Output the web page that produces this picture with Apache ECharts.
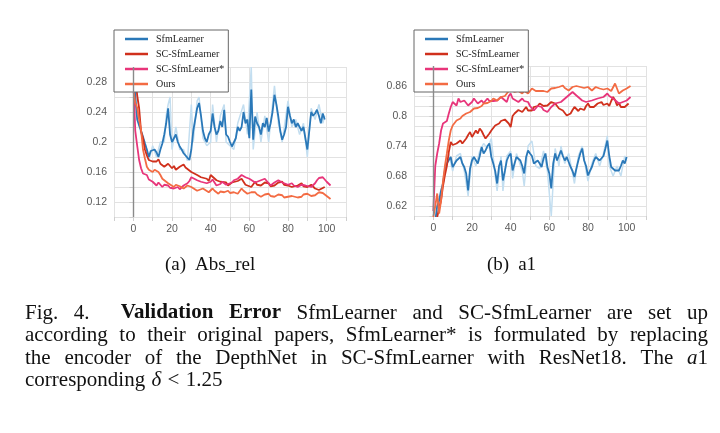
<!DOCTYPE html>
<html><head><meta charset="utf-8">
<script src="https://cdn.jsdelivr.net/npm/echarts/dist/echarts.min.js"></script>
<style>html,body{margin:0;padding:0;background:#fff}#c{width:720px;height:433px}</style>
</head><body><div id="c"></div>
<script>
// ---------- data ----------
const seriesNames = ['SfmLearner', 'SC-SfmLearner', 'SC-SfmLearner*', 'Ours'];

// (a) Abs_rel  [epoch, value]
const absSfm = [[0,0.305],[1,0.26],[2,0.23],[3,0.222],[4,0.215],[5,0.207],[6,0.198],[7,0.19],[8,0.18],[9,0.188],[10,0.19],[11,0.19],[12,0.186],[13,0.18],[14,0.19],[15,0.198],[16,0.21],[17,0.225],[18,0.245],[19,0.21],[20,0.2],[21,0.205],[22,0.21],[23,0.2],[24,0.194],[25,0.19],[26,0.185],[27,0.182],[28,0.18],[29,0.176],[30,0.19],[31,0.215],[32,0.23],[33,0.245],[34,0.252],[35,0.235],[36,0.215],[37,0.205],[38,0.2],[39,0.21],[40,0.215],[41,0.238],[42,0.22],[43,0.21],[44,0.215],[45,0.228],[46,0.22],[47,0.243],[48,0.21],[49,0.207],[50,0.2],[51,0.194],[52,0.194],[53,0.205],[54,0.22],[55,0.215],[56,0.22],[57,0.24],[58,0.225],[59,0.23],[60,0.205],[61,0.27],[62,0.203],[63,0.234],[64,0.225],[65,0.22],[66,0.21],[67,0.225],[68,0.22],[69,0.232],[70,0.214],[71,0.225],[72,0.24],[73,0.263],[74,0.25],[75,0.234],[76,0.215],[77,0.203],[78,0.21],[79,0.22],[80,0.247],[81,0.235],[82,0.225],[83,0.23],[84,0.22],[85,0.225],[86,0.225],[87,0.215],[88,0.22],[89,0.205],[90,0.19],[91,0.215],[92,0.24],[93,0.235],[94,0.238],[95,0.243],[96,0.235],[97,0.225],[98,0.238],[99,0.23]];
const absSfmRaw = [[0,0.31],[2,0.235],[4,0.21],[6,0.2],[8,0.175],[10,0.195],[12,0.18],[14,0.2],[16,0.2],[17,0.235],[18,0.25],[19,0.26],[20,0.19],[22,0.22],[24,0.19],[26,0.19],[28,0.175],[30,0.25],[31,0.2],[33,0.255],[34,0.26],[36,0.205],[38,0.195],[40,0.2],[41,0.25],[43,0.2],[45,0.235],[47,0.25],[48,0.2],[50,0.195],[52,0.19],[54,0.225],[57,0.25],[59,0.21],[61,0.3],[62,0.19],[64,0.24],[66,0.2],[68,0.235],[70,0.2],[73,0.275],[75,0.225],[77,0.2],[80,0.255],[82,0.22],[84,0.23],[86,0.21],[88,0.225],[90,0.18],[92,0.245],[94,0.23],[96,0.25],[98,0.225],[99,0.235]];
const absSc = [[0,0.305],[1,0.29],[2,0.262],[3,0.245],[4,0.214],[5,0.205],[6,0.19],[7,0.182],[8,0.176],[9,0.174],[10,0.174],[12,0.174],[13,0.177],[14,0.171],[15,0.173],[16,0.167],[17,0.169],[18,0.171],[20,0.165],[21,0.168],[22,0.163],[24,0.167],[26,0.17],[27,0.166],[28,0.165],[30,0.16],[31,0.162],[33,0.156],[35,0.153],[36,0.155],[38,0.151],[39,0.148],[40,0.156],[41,0.158],[43,0.149],[45,0.147],[46,0.145],[48,0.146],[49,0.142],[51,0.146],[52,0.145],[54,0.148],[56,0.151],[58,0.143],[59,0.145],[61,0.14],[63,0.147],[64,0.143],[66,0.142],[68,0.146],[70,0.145],[71,0.141],[73,0.142],[75,0.146],[77,0.147],[78,0.143],[80,0.142],[82,0.14],[83,0.138],[85,0.142],[87,0.145],[88,0.141],[90,0.14],[92,0.143],[94,0.138],[96,0.136],[97,0.138],[99,0.14]];
const absScStar = [[0,0.283],[1,0.215],[2,0.195],[3,0.176],[4,0.165],[5,0.158],[6,0.16],[7,0.156],[8,0.15],[9,0.149],[10,0.147],[11,0.145],[12,0.142],[13,0.146],[14,0.145],[15,0.14],[16,0.143],[18,0.142],[19,0.139],[21,0.138],[23,0.14],[24,0.137],[26,0.142],[28,0.145],[29,0.148],[30,0.153],[31,0.151],[33,0.149],[35,0.147],[36,0.145],[38,0.145],[40,0.147],[41,0.15],[43,0.142],[45,0.144],[46,0.147],[48,0.143],[49,0.142],[51,0.146],[52,0.149],[54,0.151],[56,0.156],[57,0.154],[58,0.153],[60,0.151],[61,0.149],[63,0.146],[64,0.147],[66,0.149],[68,0.151],[70,0.145],[71,0.142],[73,0.146],[75,0.149],[77,0.146],[78,0.147],[80,0.143],[82,0.145],[83,0.142],[85,0.14],[87,0.143],[89,0.142],[90,0.141],[92,0.14],[94,0.145],[95,0.149],[96,0.152],[98,0.153],[100,0.147],[101,0.145],[102,0.142]];
const absOurs = [[0,0.27],[1,0.252],[2,0.246],[3,0.23],[4,0.216],[5,0.19],[6,0.178],[7,0.167],[8,0.163],[9,0.162],[10,0.16],[11,0.163],[12,0.165],[13,0.16],[14,0.156],[15,0.151],[16,0.149],[18,0.145],[19,0.143],[21,0.14],[22,0.143],[23,0.145],[24,0.141],[26,0.138],[27,0.14],[28,0.142],[30,0.14],[31,0.139],[33,0.135],[34,0.137],[36,0.138],[37,0.136],[39,0.133],[41,0.138],[42,0.135],[44,0.131],[45,0.134],[47,0.133],[49,0.135],[50,0.132],[52,0.133],[54,0.131],[56,0.138],[57,0.135],[59,0.131],[61,0.133],[63,0.133],[64,0.13],[66,0.127],[68,0.13],[70,0.131],[71,0.128],[73,0.127],[75,0.13],[77,0.129],[78,0.126],[80,0.127],[82,0.128],[83,0.129],[85,0.126],[87,0.127],[88,0.13],[90,0.131],[92,0.128],[94,0.129],[95,0.131],[96,0.133],[98,0.132],[99,0.131],[100,0.128],[101,0.126],[102,0.124]];

// (b) a1  [epoch, value]
const a1Sfm = [[0,0.58],[1,0.59],[2,0.62],[3,0.631],[4,0.651],[5,0.665],[6,0.691],[7,0.705],[8,0.712],[9,0.718],[10,0.698],[11,0.7],[12,0.711],[13,0.715],[14,0.718],[15,0.705],[16,0.698],[17,0.685],[18,0.651],[19,0.695],[20,0.711],[21,0.718],[22,0.715],[23,0.705],[24,0.72],[25,0.738],[26,0.725],[27,0.731],[28,0.74],[29,0.745],[30,0.718],[31,0.705],[32,0.69],[33,0.665],[34,0.7],[35,0.711],[36,0.671],[37,0.69],[38,0.711],[39,0.72],[40,0.725],[41,0.691],[42,0.705],[43,0.718],[44,0.715],[45,0.711],[46,0.7],[47,0.685],[48,0.718],[49,0.731],[50,0.725],[51,0.72],[52,0.705],[53,0.708],[54,0.711],[55,0.705],[56,0.698],[57,0.715],[58,0.725],[59,0.698],[60,0.685],[61,0.655],[62,0.705],[63,0.725],[64,0.711],[65,0.715],[66,0.731],[67,0.72],[68,0.711],[69,0.718],[70,0.715],[71,0.698],[72,0.69],[73,0.678],[74,0.695],[75,0.711],[76,0.725],[77,0.735],[78,0.711],[79,0.7],[80,0.681],[81,0.69],[82,0.698],[83,0.71],[84,0.718],[85,0.715],[86,0.711],[87,0.712],[88,0.72],[89,0.735],[90,0.751],[91,0.72],[92,0.698],[93,0.695],[94,0.691],[95,0.69],[96,0.691],[97,0.7],[98,0.711],[99,0.705],[100,0.718]];
const a1SfmRaw = [[2,0.6],[4,0.64],[6,0.7],[8,0.725],[10,0.69],[12,0.72],[14,0.725],[16,0.69],[18,0.64],[20,0.72],[22,0.7],[24,0.73],[26,0.745],[28,0.735],[30,0.755],[32,0.68],[33,0.65],[35,0.72],[36,0.65],[38,0.72],[40,0.73],[41,0.675],[43,0.725],[46,0.69],[47,0.66],[49,0.74],[51,0.75],[53,0.7],[55,0.695],[57,0.73],[59,0.69],[61,0.6],[63,0.735],[65,0.7],[66,0.74],[68,0.705],[70,0.725],[72,0.685],[73,0.665],[75,0.72],[77,0.74],[79,0.69],[80,0.67],[82,0.705],[84,0.725],[86,0.7],[88,0.725],[90,0.76],[91,0.7],[93,0.68],[95,0.7],[97,0.68],[99,0.72],[100,0.71]];
const a1Sc = [[0,0.58],[1,0.59],[2,0.598],[3,0.615],[4,0.631],[5,0.66],[6,0.682],[7,0.7],[8,0.728],[9,0.748],[10,0.742],[11,0.738],[12,0.745],[13,0.742],[14,0.751],[15,0.745],[16,0.748],[17,0.755],[18,0.762],[19,0.768],[20,0.758],[21,0.761],[22,0.771],[23,0.765],[24,0.775],[25,0.77],[26,0.762],[27,0.755],[28,0.752],[29,0.765],[30,0.771],[31,0.775],[32,0.781],[33,0.785],[34,0.785],[35,0.79],[36,0.791],[37,0.793],[38,0.795],[39,0.785],[40,0.778],[41,0.8],[42,0.805],[43,0.801],[44,0.812],[45,0.815],[46,0.808],[47,0.812],[48,0.818],[49,0.811],[50,0.815],[51,0.811],[52,0.818],[53,0.822],[54,0.82],[55,0.825],[56,0.828],[57,0.82],[58,0.818],[59,0.821],[60,0.825],[61,0.828],[62,0.831],[63,0.825],[64,0.82],[65,0.815],[66,0.818],[67,0.811],[68,0.808],[69,0.801],[70,0.798],[71,0.805],[72,0.812],[73,0.818],[74,0.815],[75,0.81],[76,0.815],[77,0.818],[78,0.812],[79,0.82],[80,0.825],[81,0.818],[82,0.815],[83,0.818],[84,0.821],[85,0.825],[86,0.828],[87,0.828],[88,0.822],[89,0.818],[90,0.825],[91,0.82],[92,0.83],[93,0.838],[94,0.832],[95,0.821],[96,0.826],[97,0.818],[98,0.815],[99,0.818],[100,0.82],[101,0.825]];
const a1ScStar = [[0,0.61],[1,0.7],[2,0.725],[3,0.745],[4,0.771],[5,0.785],[6,0.786],[7,0.79],[8,0.805],[9,0.818],[10,0.828],[11,0.824],[12,0.821],[13,0.835],[14,0.828],[15,0.825],[16,0.831],[17,0.826],[18,0.821],[19,0.825],[20,0.828],[21,0.835],[22,0.83],[23,0.825],[24,0.828],[25,0.831],[26,0.826],[27,0.825],[28,0.835],[29,0.83],[30,0.828],[31,0.83],[33,0.831],[35,0.838],[36,0.834],[38,0.828],[39,0.84],[40,0.845],[41,0.835],[42,0.832],[44,0.828],[45,0.832],[46,0.835],[47,0.83],[49,0.828],[50,0.82],[52,0.811],[53,0.815],[54,0.82],[56,0.818],[57,0.812],[59,0.808],[61,0.818],[63,0.825],[64,0.822],[66,0.828],[67,0.832],[69,0.838],[70,0.842],[72,0.848],[73,0.846],[74,0.841],[75,0.838],[77,0.831],[79,0.828],[80,0.826],[82,0.831],[83,0.833],[85,0.835],[86,0.832],[88,0.838],[90,0.845],[91,0.84],[93,0.835],[94,0.832],[96,0.825],[98,0.828],[100,0.831],[101,0.835],[102,0.838]];
const a1Ours = [[0,0.598],[1,0.62],[2,0.645],[3,0.605],[4,0.631],[5,0.67],[6,0.7],[7,0.725],[8,0.751],[9,0.771],[10,0.781],[11,0.785],[12,0.791],[13,0.793],[14,0.795],[15,0.8],[16,0.801],[17,0.805],[18,0.806],[19,0.808],[20,0.811],[21,0.815],[22,0.818],[23,0.816],[24,0.815],[25,0.82],[26,0.825],[27,0.828],[28,0.826],[29,0.825],[30,0.83],[31,0.835],[32,0.833],[33,0.831],[34,0.835],[35,0.838],[36,0.836],[37,0.84],[38,0.845],[39,0.848],[40,0.855],[41,0.851],[42,0.848],[43,0.845],[44,0.85],[45,0.848],[46,0.845],[47,0.85],[48,0.851],[49,0.845],[50,0.85],[51,0.855],[52,0.852],[53,0.85],[54,0.848],[55,0.85],[56,0.851],[57,0.85],[58,0.846],[59,0.848],[60,0.852],[61,0.855],[62,0.858],[63,0.856],[64,0.855],[65,0.858],[66,0.86],[67,0.861],[68,0.856],[69,0.853],[70,0.851],[71,0.855],[72,0.858],[73,0.858],[74,0.86],[75,0.861],[76,0.858],[77,0.855],[78,0.856],[79,0.858],[80,0.858],[81,0.855],[82,0.851],[83,0.855],[84,0.858],[85,0.858],[86,0.855],[87,0.851],[88,0.853],[89,0.855],[90,0.855],[91,0.852],[92,0.85],[93,0.848],[94,0.865],[95,0.855],[96,0.845],[97,0.848],[98,0.851],[99,0.848],[100,0.855],[101,0.858],[102,0.86]];

// tick labels
const xTickLabels = [0, 20, 40, 60, 80, 100];
const absTickLabels = [0.12, 0.16, 0.2, 0.24, 0.28];
const a1TickLabels = [0.62, 0.68, 0.74, 0.8, 0.86];

// caption text
const subCaptions = [{label: '(a)', text: 'Abs_rel', x: 165}, {label: '(b)', text: 'a1', x: 487}];
const captionLines = [
  {words: ['Fig.', '4.', '{b|Validation}', '{b|Error}', 'SfmLearner', 'and', 'SC-SfmLearner', 'are', 'set', 'up'], justify: true, extraGap: {1: 2.0}},
  {words: ['according', 'to', 'their', 'original', 'papers,', 'SfmLearner*', 'is', 'formulated', 'by', 'replacing'], justify: true},
  {words: ['the', 'encoder', 'of', 'the', 'DepthNet', 'in', 'SC-SfmLearner', 'with', 'ResNet18.', 'The', '{i|a}1'], justify: true},
  {words: ['corresponding', '{i|δ}', '<', '1.25'], justify: false}
];

// ---------- styling ----------
const colors = {sfm: '#2a78b8', sc: '#d0301c', scStar: '#e8357a', ours: '#f36b43', sfmRaw: '#c3def0'};
const gridA = {left: 114, top: 67, width: 232, height: 150};
const gridB = {left: 414, top: 66, width: 232, height: 150};
const serifFamily = '"Liberation Serif", "Times New Roman", serif';
const capSize = 21, subSize = 19;

function xAxisCfg(gi) {
  return {
    type: 'value', gridIndex: gi, min: -10, max: 110, interval: 10,
    axisLine: {show: false},
    axisTick: {show: true, length: 4, lineStyle: {color: '#cfcfcf'}},
    axisLabel: {color: '#5a5a5a', fontSize: 10.5, fontFamily: 'Liberation Sans', margin: 7,
      formatter: v => xTickLabels.indexOf(Math.round(v)) >= 0 ? String(Math.round(v)) : ''},
    splitLine: {show: true, lineStyle: {color: '#e2e2e2', width: 1}}
  };
}
function yAxisCfg(gi, min, max, labels) {
  return {
    type: 'value', gridIndex: gi, min, max, interval: 0.02,
    axisLine: {show: false},
    axisTick: {show: true, length: 4, lineStyle: {color: '#cfcfcf'}},
    axisLabel: {color: '#5a5a5a', fontSize: 10.5, fontFamily: 'Liberation Sans', margin: 7,
      formatter: v => {
        const r = Math.round(v * 100) / 100;
        return labels.some(l => Math.abs(l - r) < 1e-6) ? String(r) : '';
      }},
    splitLine: {show: true, lineStyle: {color: '#e2e2e2', width: 1}}
  };
}
function lineSeries(name, data, color, gi, extra) {
  return Object.assign({
    name, type: 'line', data, xAxisIndex: gi, yAxisIndex: gi,
    showSymbol: false, symbol: 'none', clip: true,
    lineStyle: {color, width: 1.8}, itemStyle: {color},
    emphasis: {disabled: true}
  }, extra || {});
}
const zeroLine = {
  silent: true, symbol: 'none', label: {show: false},
  lineStyle: {color: '#8a8a8a', width: 1.4, type: 'solid'},
  data: [{xAxis: 0}]
};
function legendCfg(left) {
  return {
    left, top: 30, orient: 'vertical', icon: 'rect', itemWidth: 23, itemHeight: 2.5, itemGap: 3,
    backgroundColor: '#fff', borderColor: '#666', borderWidth: 1, padding: [3, 4, 2, 11],
    selectedMode: false, data: seriesNames,
    textStyle: {fontFamily: serifFamily, fontSize: 10, color: '#222', lineHeight: 12, padding: [0, 0, 0, 3]}
  };
}

// ---------- caption layout ----------
const mctx = document.createElement('canvas').getContext('2d');
function fontStr(st, size) {
  return (st === 'i' ? 'italic ' : '') + (st === 'b' ? 'bold ' : '') + size + 'px ' + serifFamily;
}
function measure(t, st, size) { mctx.font = fontStr(st, size); return mctx.measureText(t).width; }
function parseWord(w) {
  const runs = []; const re = /\{(\w)\|([^}]*)\}|([^{]+)/g; let m;
  while ((m = re.exec(w))) { if (m[3]) runs.push({t: m[3], st: 'n'}); else runs.push({t: m[2], st: m[1]}); }
  return runs;
}
function textEl(t, x, y, st, size) {
  return {type: 'text', x, y, silent: true,
    style: {text: t, font: fontStr(st, size), fill: '#111', textAlign: 'left', textVerticalAlign: 'middle', align: 'left', verticalAlign: 'middle'}};
}
const graphics = [];
const capLeft = 25, capRight = 708, capTop = 313, capLineH = 22.5;
const spaceNat = measure(' ', 'n', capSize) * 1.2;
captionLines.forEach((line, li) => {
  const y = capTop + li * capLineH;
  const words = line.words.map(parseWord);
  const widths = words.map(rs => rs.reduce((s, r) => s + measure(r.t, r.st, capSize), 0));
  const total = widths.reduce((a, b) => a + b, 0);
  const weights = words.slice(1).map((_, i) => (line.extraGap && line.extraGap[i]) || 1);
  const wsum = weights.reduce((a, b) => a + b, 0);
  const gap = line.justify ? (capRight - capLeft - total) / wsum : spaceNat;
  let x = capLeft;
  words.forEach((rs, i) => {
    rs.forEach(r => { graphics.push(textEl(r.t, x, y, r.st, capSize)); x += measure(r.t, r.st, capSize); });
    if (i < words.length - 1) x += gap * weights[i];
  });
});
subCaptions.forEach(sc => {
  graphics.push(textEl(sc.label, sc.x, 265, 'n', subSize));
  graphics.push(textEl(sc.text, sc.x + measure(sc.label, 'n', subSize) + 9, 265, 'n', subSize));
});

// ---------- chart ----------
const chart = echarts.init(document.getElementById('c'), null, {renderer: 'canvas'});
chart.setOption({
  animation: false,
  backgroundColor: '#fff',
  grid: [gridA, gridB],
  xAxis: [xAxisCfg(0), xAxisCfg(1)],
  yAxis: [yAxisCfg(0, 0.10, 0.30, absTickLabels), yAxisCfg(1, 0.60, 0.90, a1TickLabels)],
  legend: [legendCfg(114), legendCfg(414)],
  series: [
    lineSeries('SfmLearner raw', absSfmRaw, colors.sfmRaw, 0, {lineStyle: {color: colors.sfmRaw, width: 1.5}, markLine: zeroLine, z: 1}),
    lineSeries(seriesNames[0], absSfm, colors.sfm, 0),
    lineSeries(seriesNames[1], absSc, colors.sc, 0),
    lineSeries(seriesNames[2], absScStar, colors.scStar, 0),
    lineSeries(seriesNames[3], absOurs, colors.ours, 0),
    lineSeries('SfmLearner raw b', a1SfmRaw, colors.sfmRaw, 1, {lineStyle: {color: colors.sfmRaw, width: 1.5}, markLine: zeroLine, z: 1}),
    lineSeries(seriesNames[0], a1Sfm, colors.sfm, 1),
    lineSeries(seriesNames[1], a1Sc, colors.sc, 1),
    lineSeries(seriesNames[2], a1ScStar, colors.scStar, 1),
    lineSeries(seriesNames[3], a1Ours, colors.ours, 1)
  ],
  graphic: graphics
});
</script></body></html>
